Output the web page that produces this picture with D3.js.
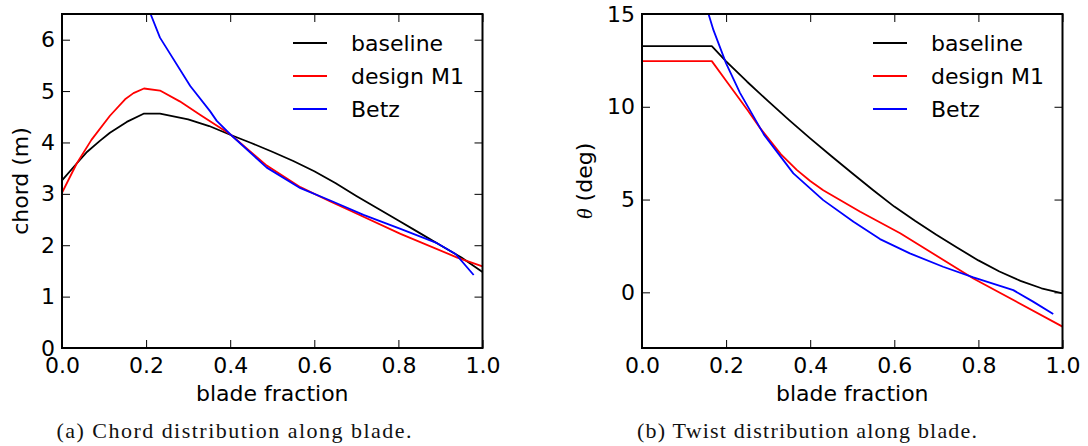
<!DOCTYPE html>
<html><head><meta charset="utf-8">
<script src="https://cdn.jsdelivr.net/npm/d3@7"></script>
<style>
html,body{margin:0;padding:0;background:#fff;}
svg{display:block;}
</style></head>
<body>
<svg id="chart" width="1088" height="446"></svg>
<script>
// ---------- data ----------
const seriesNames = ["baseline", "design M1", "Betz"];
const seriesColors = ["#000000", "#ff0000", "#0000ff"];

const xTicks = [0, 0.2, 0.4, 0.6, 0.8, 1.0];
const xTickLabels = ["0.0", "0.2", "0.4", "0.6", "0.8", "1.0"];

const chordTicks = [0, 1, 2, 3, 4, 5, 6];
const twistTicks = [0, 5, 10, 15];

// Chord (m) vs blade fraction
const chordBaselineX = [0, 0.035, 0.06, 0.09, 0.114, 0.154, 0.194, 0.233, 0.3, 0.35, 0.4, 0.45, 0.5, 0.55, 0.6, 0.65, 0.7, 0.75, 0.8, 0.85, 0.9, 0.95, 1.0];
const chordBaselineY = [3.26, 3.59, 3.82, 4.03, 4.19, 4.40, 4.56, 4.56, 4.45, 4.32, 4.15, 3.99, 3.82, 3.64, 3.44, 3.21, 2.96, 2.72, 2.48, 2.24, 2.00, 1.76, 1.48];

const chordM1X = [0, 0.035, 0.07, 0.114, 0.15, 0.17, 0.195, 0.233, 0.28, 0.33, 0.4, 0.487, 0.567, 0.638, 0.686, 0.805, 0.94, 1.0];
const chordM1Y = [3.02, 3.59, 4.05, 4.52, 4.84, 4.96, 5.05, 5.01, 4.80, 4.53, 4.16, 3.55, 3.13, 2.85, 2.67, 2.22, 1.76, 1.59];

const chordBetzX = [0.2, 0.233, 0.305, 0.352, 0.368, 0.4, 0.487, 0.567, 0.638, 0.717, 0.805, 0.892, 0.936, 0.979];
const chordBetzY = [6.72, 6.04, 5.10, 4.61, 4.42, 4.16, 3.51, 3.11, 2.87, 2.59, 2.32, 2.04, 1.83, 1.42];

// Twist (deg) vs blade fraction
const twistBaselineX = [0, 0.166, 0.2, 0.25, 0.3, 0.35, 0.4, 0.45, 0.5, 0.55, 0.6, 0.65, 0.7, 0.75, 0.8, 0.85, 0.9, 0.95, 1.0];
const twistBaselineY = [13.27, 13.27, 12.45, 11.35, 10.3, 9.28, 8.3, 7.35, 6.42, 5.5, 4.62, 3.84, 3.1, 2.4, 1.72, 1.12, 0.62, 0.22, -0.05];

const twistM1X = [0, 0.166, 0.2, 0.25, 0.281, 0.33, 0.368, 0.4, 0.431, 0.519, 0.614, 0.788, 1.0];
const twistM1Y = [12.46, 12.46, 11.40, 9.85, 8.85, 7.45, 6.60, 6.0, 5.50, 4.34, 3.18, 0.75, -1.85];

const twistBetzX = [0.15, 0.17, 0.2, 0.233, 0.29, 0.36, 0.431, 0.503, 0.566, 0.637, 0.716, 0.788, 0.883, 0.93, 0.978];
const twistBetzY = [15.6, 14.13, 12.34, 10.75, 8.5, 6.41, 4.97, 3.80, 2.87, 2.10, 1.38, 0.81, 0.12, -0.5, -1.17];

// ---------- drawing ----------
const svg = d3.select("#chart");
svg.append("rect").attr("width", 1088).attr("height", 446).attr("fill", "#fff");

const SANS = "'DejaVu Sans', sans-serif";
const SERIF = "'Liberation Serif', 'DejaVu Serif', serif";

function panel(opts) {
  const {left, right, top, bottom, yDomain, yTicks, series, yLabel, legendX, caption, captionX, clipId} = opts;
  const x = d3.scaleLinear().domain([0, 1]).range([left, right]);
  const y = d3.scaleLinear().domain(yDomain).range([bottom, top]);
  const g = svg.append("g");

  g.append("clipPath").attr("id", clipId)
    .append("rect").attr("x", left).attr("y", top).attr("width", right - left).attr("height", bottom - top);

  const line = d3.line().x(d => x(d[0])).y(d => y(d[1]));
  const lg = g.append("g").attr("clip-path", `url(#${clipId})`);
  series.forEach((s, i) => {
    const pts = s.x.map((v, k) => [v, s.y[k]]);
    lg.append("path").datum(pts).attr("d", line)
      .attr("fill", "none").attr("stroke", seriesColors[i]).attr("stroke-width", 1.8)
      .attr("stroke-linejoin", "round");
  });

  const fmtX = d => xTickLabels[xTicks.indexOf(d)];
  const ab = g.append("g").attr("transform", `translate(0,${bottom})`)
    .call(d3.axisBottom(x).tickValues(xTicks).tickFormat(fmtX).tickSize(-8).tickPadding(9));
  const at = g.append("g").attr("transform", `translate(0,${top})`)
    .call(d3.axisTop(x).tickValues(xTicks).tickFormat("").tickSize(-8));
  const al = g.append("g").attr("transform", `translate(${left},0)`)
    .call(d3.axisLeft(y).tickValues(yTicks).tickFormat(d3.format("d")).tickSize(-8).tickPadding(7));
  const ar = g.append("g").attr("transform", `translate(${right},0)`)
    .call(d3.axisRight(y).tickValues(yTicks).tickFormat("").tickSize(-8));
  [ab, at, al, ar].forEach(a => {
    a.select(".domain").remove();
    a.selectAll(".tick line").attr("stroke", "#000").attr("stroke-width", 1);
    a.selectAll("text").style("font-size", "22px").style("font-family", SANS).attr("fill", "#000");
  });

  g.append("rect").attr("x", left).attr("y", top).attr("width", right - left).attr("height", bottom - top)
    .attr("fill", "none").attr("stroke", "#000").attr("stroke-width", 2);

  g.append("text").attr("x", (left + right) / 2).attr("y", 401).attr("text-anchor", "middle")
    .style("font-family", SANS).style("font-size", "22px").text("blade fraction");

  const yl = g.append("text").attr("transform", `translate(${opts.yLabelX},${(top + bottom) / 2}) rotate(-90)`)
    .attr("text-anchor", "middle").style("font-family", SANS).style("font-size", "22px");
  yLabel(yl);

  series.forEach((s, i) => {
    const ly = 43 + i * 33;
    g.append("line").attr("x1", legendX).attr("x2", legendX + 34).attr("y1", ly).attr("y2", ly)
      .attr("stroke", seriesColors[i]).attr("stroke-width", 1.8);
    g.append("text").attr("x", legendX + 58).attr("y", ly + 8)
      .style("font-family", SANS).style("font-size", "22px").text(seriesNames[i]);
  });

  g.append("text").attr("x", captionX).attr("y", 438).attr("text-anchor", "middle")
    .attr("textLength", opts.captionLen).attr("lengthAdjust", "spacing")
    .style("font-family", SERIF).style("font-size", "22px").attr("fill", "#111").text(caption);
}

panel({
  left: 62, right: 482.5, top: 14, bottom: 348,
  yDomain: [0, 6.5], yTicks: chordTicks,
  series: [
    {x: chordBaselineX, y: chordBaselineY},
    {x: chordM1X, y: chordM1Y},
    {x: chordBetzX, y: chordBetzY}
  ],
  yLabelX: 28,
  yLabel: t => t.text("chord (m)"),
  legendX: 293,
  caption: "(a) Chord distribution along blade.",
  captionX: 234, captionLen: 355,
  clipId: "clipA"
});

panel({
  left: 642, right: 1062.5, top: 14, bottom: 348,
  yDomain: [-3, 15], yTicks: twistTicks,
  series: [
    {x: twistBaselineX, y: twistBaselineY},
    {x: twistM1X, y: twistM1Y},
    {x: twistBetzX, y: twistBetzY}
  ],
  yLabelX: 592,
  yLabel: t => {
    t.append("tspan").style("font-family", SERIF).style("font-style", "italic").text("θ");
    t.append("tspan").text(" (deg)");
  },
  legendX: 873,
  caption: "(b) Twist distribution along blade.",
  captionX: 807, captionLen: 340,
  clipId: "clipB"
});
</script>
</body></html>
